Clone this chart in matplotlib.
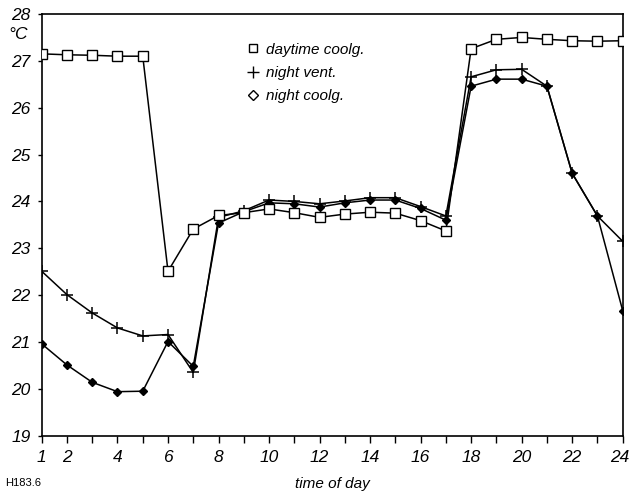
import matplotlib
matplotlib.use("Agg")
import matplotlib.pyplot as plt
import matplotlib.transforms as mtransforms
from matplotlib.lines import Line2D

hours = list(range(1, 25))
daytime_coolg = [27.15, 27.13, 27.12, 27.10, 27.10, 22.51, 23.41, 23.70, 23.76, 23.84,
                 23.76, 23.66, 23.73, 23.77, 23.75, 23.59, 23.37, 27.26, 27.46, 27.50,
                 27.46, 27.43, 27.42, 27.43]
night_vent = [22.51, 22.01, 21.62, 21.30, 21.13, 21.16, 20.35, 23.66, 23.80, 24.03,
              24.00, 23.95, 24.01, 24.08, 24.08, 23.89, 23.69, 26.66, 26.81, 26.82,
              26.46, 24.60, 23.69, 23.15]
night_coolg = [20.96, 20.51, 20.14, 19.94, 19.95, 21.01, 20.48, 23.54, 23.78, 23.97,
               23.95, 23.88, 23.97, 24.03, 24.03, 23.85, 23.60, 26.46, 26.61, 26.61,
               26.46, 24.60, 23.69, 21.67]
xtick_labels = ["1", "2", "4", "6", "8", "10", "12", "14", "16", "18", "20", "22", "24"]
xtick_pos = [1, 2, 4, 6, 8, 10, 12, 14, 16, 18, 20, 22, 24]
yticks = list(range(19, 29))
legend_labels = ["daytime coolg.", "night vent.", "night coolg."]

FONT = "Liberation Sans"
fig = plt.figure(figsize=(6.3, 4.92), dpi=100)
ax = fig.add_axes([0.0662, 0.1144, 0.9222, 0.8571])

lw = 1.1
ax.plot(hours, night_coolg, color="black", lw=lw, marker="D", markersize=4.2,
        markerfacecolor="black", markeredgecolor="black", zorder=3)
ax.plot(hours, night_vent, color="black", lw=lw, marker="+", markersize=9,
        markeredgewidth=1.1, zorder=3)
ax.plot(hours, daytime_coolg, color="black", lw=lw, marker="s", markersize=7,
        markerfacecolor="white", markeredgecolor="black", markeredgewidth=1.0, zorder=4)

ax.set_xlim(1, 24)
ax.set_ylim(19, 28)
ax.set_xticks(hours, minor=True)
ax.set_xticks(xtick_pos)
ax.set_xticklabels(xtick_labels, fontfamily=FONT, fontstyle="italic", fontsize=12.5)
ax.set_yticks(yticks)
ax.set_yticklabels([str(v) for v in yticks], fontfamily=FONT, fontstyle="italic", fontsize=12.5)
ax.tick_params(axis="x", which="both", direction="out", length=5, width=1.0, pad=5)
ax.tick_params(axis="y", direction="out", length=3, width=1.0, pad=5)
for s in ax.spines.values():
    s.set_linewidth(1.2)

# nudge last x tick label so it stays inside the canvas
last = ax.get_xticklabels()[-1]
last.set_transform(last.get_transform() +
                   mtransforms.ScaledTranslation(-3 / 100, 0, fig.dpi_scale_trans))

handles = [
    Line2D([], [], linestyle="none", marker="s", markersize=6, markerfacecolor="white",
           markeredgecolor="black"),
    Line2D([], [], linestyle="none", marker="+", markersize=8, markeredgecolor="black",
           markeredgewidth=1.0),
    Line2D([], [], linestyle="none", marker="D", markersize=5, markerfacecolor="white",
           markeredgecolor="black"),
]
ax.legend(handles, legend_labels, loc="upper left", bbox_to_anchor=(0.33, 0.965),
          frameon=False, handlelength=0.8, handletextpad=0.4, labelspacing=0.62,
          prop={"family": FONT, "style": "italic", "size": 11})

fig.text(0.014, 0.93, "°C", fontfamily=FONT, fontstyle="italic", fontsize=12.5, va="center")
ax.set_xlabel("time of day", fontfamily=FONT, fontstyle="italic", fontsize=11, labelpad=9)
fig.text(0.008, 0.018, "H183.6", fontfamily=FONT, fontsize=8, va="center")

fig.savefig("out.png", dpi=100)
